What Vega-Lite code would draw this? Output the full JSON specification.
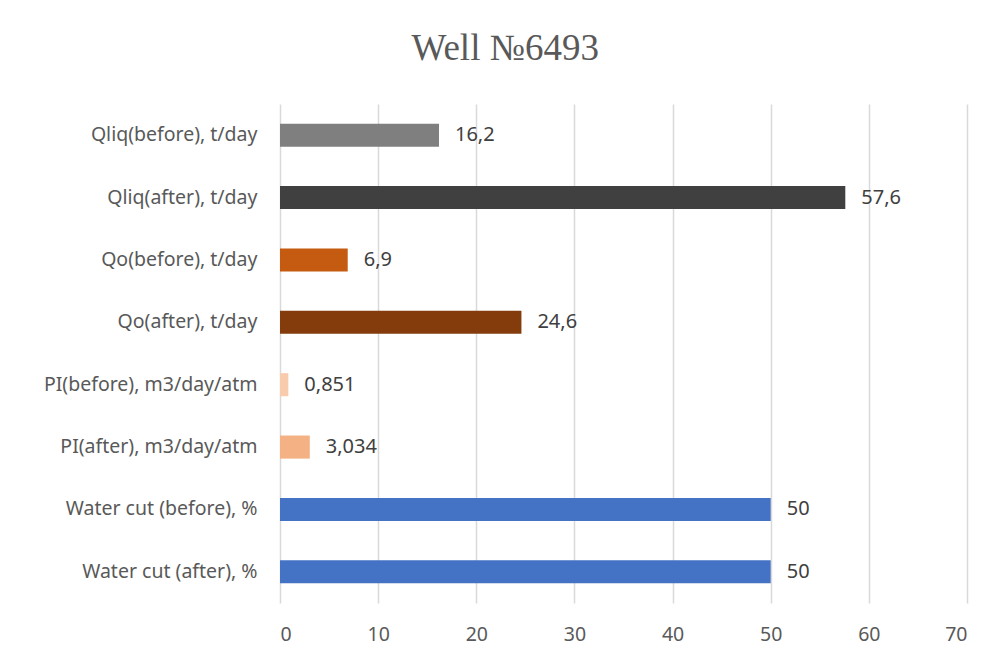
{
  "$schema": "https://vega.github.io/schema/vega-lite/v6.json",
  "width": 687,
  "height": 499,
  "autosize": {"type": "none"},
  "padding": {"left": 280, "top": 104, "right": 31, "bottom": 58},
  "background": "#ffffff",
  "title": {
    "text": "Well №6493",
    "font": "Liberation Serif",
    "fontSize": 37,
    "fontWeight": "normal",
    "color": "#595959",
    "anchor": "middle",
    "frame": "bounds",
    "offset": 36
  },
  "config": {
    "view": {"stroke": null},
    "axis": {
      "labelFont": "Noto Sans",
      "labelFontSize": 19.5,
      "labelColor": "#595959",
      "labelLimit": 400,
      "domain": false,
      "ticks": false
    }
  },
  "data": {
    "values": [
      {"cat": "Qliq(before), t/day", "value": 16.2, "label": "16,2", "color": "#7f7f7f"},
      {"cat": "Qliq(after), t/day", "value": 57.6, "label": "57,6", "color": "#404040"},
      {"cat": "Qo(before), t/day", "value": 6.9, "label": "6,9", "color": "#c55a11"},
      {"cat": "Qo(after), t/day", "value": 24.6, "label": "24,6", "color": "#843c0c"},
      {"cat": "PI(before), m3/day/atm", "value": 0.851, "label": "0,851", "color": "#f8cbad"},
      {"cat": "PI(after), m3/day/atm", "value": 3.034, "label": "3,034", "color": "#f4b183"},
      {"cat": "Water cut (before), %", "value": 50, "label": "50", "color": "#4472c4"},
      {"cat": "Water cut (after), %", "value": 50, "label": "50", "color": "#4472c4"}
    ]
  },
  "encoding": {
    "y": {
      "field": "cat",
      "type": "nominal",
      "sort": null,
      "scale": {"paddingInner": 0.63, "paddingOuter": 0.315},
      "axis": {"title": null, "labelPadding": 23}
    },
    "x": {
      "field": "value",
      "type": "quantitative",
      "scale": {"domain": [0, 70], "nice": false},
      "axis": {
        "title": null,
        "values": [0, 10, 20, 30, 40, 50, 60, 70],
        "grid": true,
        "gridColor": "#d9d9d9",
        "gridWidth": 1.5,
        "labelPadding": 22,
        "labelFontSize": 19.5
      }
    }
  },
  "layer": [
    {
      "mark": {"type": "bar"},
      "encoding": {
        "color": {"field": "color", "type": "nominal", "scale": null}
      }
    },
    {
      "mark": {"type": "text", "align": "left", "baseline": "middle", "dx": 16, "font": "Noto Sans", "fontSize": 20, "color": "#404040"},
      "encoding": {"text": {"field": "label"}}
    }
  ]
}
